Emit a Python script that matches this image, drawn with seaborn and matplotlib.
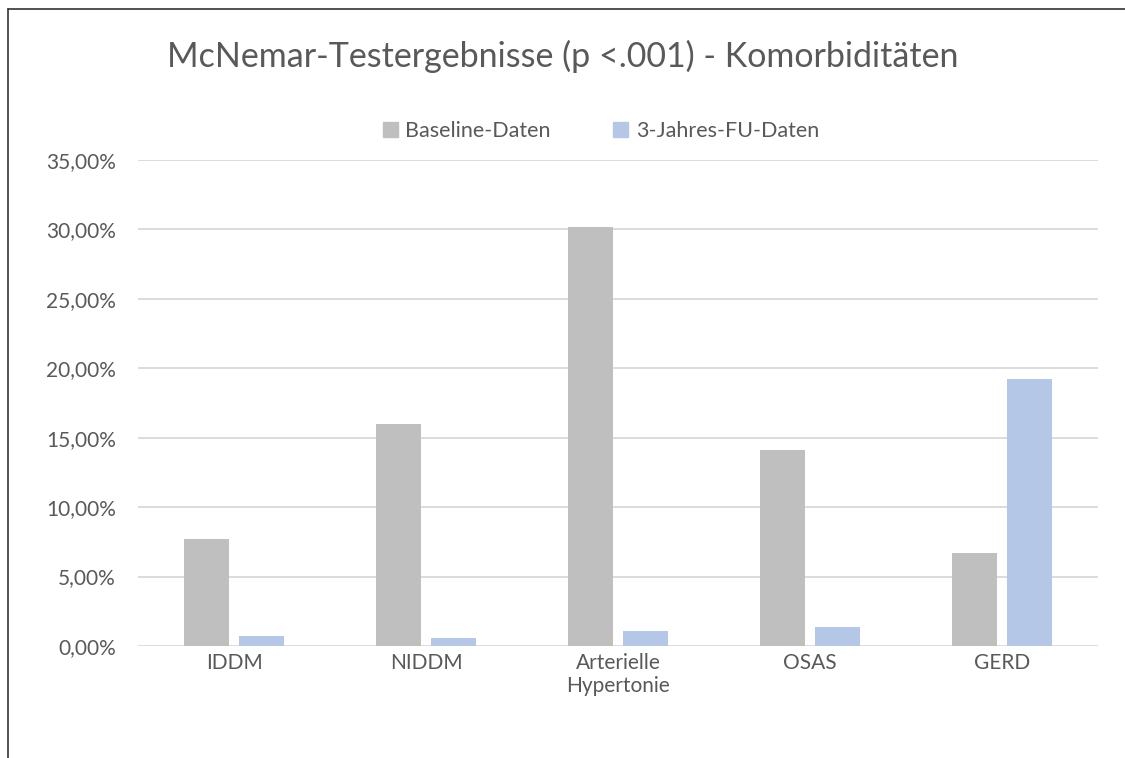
import matplotlib
matplotlib.use("Agg")
import matplotlib.pyplot as plt
import seaborn as sns
import pandas as pd
from matplotlib.lines import Line2D
from matplotlib.ticker import FuncFormatter

# values (percent)
categories = ["IDDM", "NIDDM", "Arterielle\nHypertonie", "OSAS", "GERD"]
baseline = [7.72, 15.97, 30.2, 14.14, 6.73]
followup = [0.70, 0.60, 1.08, 1.35, 19.26]
series_names = ["Baseline-Daten", "3-Jahres-FU-Daten"]
y_ticks = [0, 5, 10, 15, 20, 25, 30, 35]

df = pd.DataFrame({
    "Kategorie": categories * 2,
    "Serie": [series_names[0]] * len(categories) + [series_names[1]] * len(categories),
    "Wert": baseline + followup,
})

sns.set_style("white")
plt.rcParams["font.family"] = ["Lato", "DejaVu Sans"]
text_col = "#595959"
colors = ["#BFBFBF", "#B4C7E7"]

fig = plt.figure(figsize=(11.25, 7.58), dpi=100)
ax = fig.add_axes([0.1227, 0.1478, 0.8533, 0.6411])

sns.barplot(
    data=df, x="Kategorie", y="Wert", hue="Serie",
    palette=colors, saturation=1, width=0.568, gap=0.176,
    linewidth=0, ax=ax, legend=False, zorder=3,
)

ax.set_ylim(0, 35)
ax.set_xlim(-0.5, len(categories) - 0.5)
ax.set_yticks(y_ticks)
ax.yaxis.set_major_formatter(FuncFormatter(lambda v, p: f"{v:.2f}%".replace(".", ",")))
ax.grid(axis="y", color="#D9D9D9", linewidth=1.3, zorder=0)
ax.set_axisbelow(True)
for s in ax.spines.values():
    s.set_visible(False)
ax.tick_params(axis="both", length=0, labelsize=15, colors=text_col)
ax.tick_params(axis="y", pad=16)
ax.tick_params(axis="x", pad=5)
ax.set_xlabel("")
ax.set_ylabel("")

fig.text(0.5, 0.925, "McNemar-Testergebnisse (p <.001) - Komorbiditäten",
         ha="center", va="center", fontsize=24.5, color=text_col)

handles = [plt.Rectangle((0, 0), 1, 1, color=c) for c in colors]
fig.legend(handles, series_names, loc="center", bbox_to_anchor=(0.534, 0.827),
           ncol=2, frameon=False, fontsize=15.5, labelcolor=text_col,
           handlelength=0.7, handleheight=0.7, handletextpad=0.35, columnspacing=2.9)

# chart frame (left and top edges visible in the reference)
fig.add_artist(Line2D([7.5 / 1125, 7.5 / 1125], [0, 1 - 9 / 758], color="#333333", lw=1.2))
fig.add_artist(Line2D([7.5 / 1125, 1], [1 - 9 / 758, 1 - 9 / 758], color="#333333", lw=1.2))

fig.savefig("out.png", dpi=100)
